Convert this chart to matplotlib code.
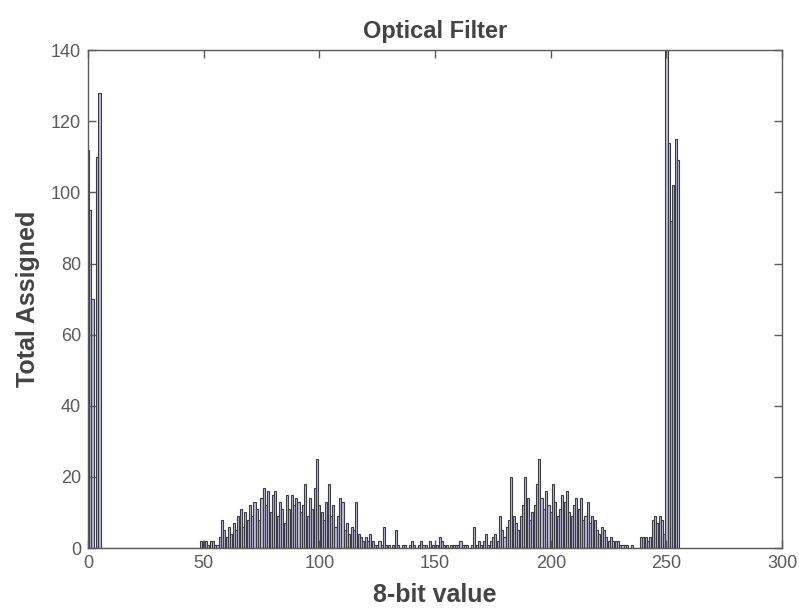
import numpy as np
import matplotlib
matplotlib.use("Agg")
import matplotlib.pyplot as plt

plt.rcParams['font.family'] = ['Liberation Sans', 'DejaVu Sans']

# 8-bit values and counts
values = np.arange(256)
counts = (
    [112, 95, 70, 0, 110, 128, 0, 0, 0, 0] +          # 0-9
    [0] * 39 +                                         # 10-48
    [2] +                                              # 49
    [2, 2, 1, 2, 2, 1, 1, 3, 8, 5] +                   # 50-59
    [3, 6, 4, 7, 5, 9, 11, 6, 10, 8] +                 # 60-69
    [12, 9, 13, 11, 8, 14, 17, 12, 16, 10] +           # 70-79
    [15, 16, 9, 13, 11, 7, 15, 11, 15, 12] +           # 80-89
    [14, 13, 10, 12, 18, 9, 14, 11, 17, 25] +          # 90-99
    [12, 10, 8, 13, 18, 9, 12, 6, 9, 14] +             # 100-109
    [13, 5, 7, 4, 6, 5, 13, 4, 3, 2] +                 # 110-119
    [3, 2, 4, 2, 1, 1, 2, 1, 6, 1] +                   # 120-129
    [1, 0, 1, 5, 1, 0, 1, 1, 0, 1] +                   # 130-139
    [2, 1, 0, 1, 2, 1, 1, 0, 2, 1] +                   # 140-149
    [1, 1, 3, 2, 1, 1, 0, 1, 1, 1] +                   # 150-159
    [1, 2, 1, 1, 1, 0, 1, 6, 1, 2] +                   # 160-169
    [1, 2, 4, 1, 2, 3, 4, 2, 9, 5] +                   # 170-179
    [3, 6, 8, 20, 9, 7, 5, 9, 12, 20] +                # 180-189
    [14, 8, 10, 12, 18, 25, 14, 11, 16, 12] +          # 190-199
    [10, 18, 13, 9, 11, 15, 13, 16, 10, 9] +           # 200-209
    [12, 14, 11, 14, 8, 9, 13, 7, 9, 8] +              # 210-219
    [5, 4, 6, 5, 3, 2, 3, 2, 2, 2] +                   # 220-229
    [1, 1, 1, 1, 0, 1, 0, 0, 0, 3] +                   # 230-239
    [3, 3, 2, 3, 8, 9, 7, 9, 8, 4] +                   # 240-249
    [145, 114, 92, 102, 115, 109]                      # 250-255
)

x_ticks = [0, 50, 100, 150, 200, 250, 300]
y_ticks = [0, 20, 40, 60, 80, 100, 120, 140]

fig = plt.figure(figsize=(7.99, 6.11), dpi=100)
ax = fig.add_axes([0.110, 0.103, 0.869, 0.815])

ax.bar(values, counts, width=0.9, color='#bcbcd4', edgecolor='#3c3c44',
       linewidth=0.8)

ax.set_xlim(0, 300)
ax.set_ylim(0, 140)
ax.set_xticks(x_ticks)
ax.set_yticks(y_ticks)

gray = '#5a5a5a'
for s in ax.spines.values():
    s.set_color(gray)
    s.set_linewidth(1.0)
ax.tick_params(direction='in', length=6, width=1, color=gray,
               top=True, right=True, labelsize=13, labelcolor=gray, pad=5)

ax.set_title('Optical Filter', fontsize=17, fontweight='bold', color='#444444', pad=9)
ax.set_xlabel('8-bit value', fontsize=18, fontweight='bold', color='#444444', labelpad=8)
ax.set_ylabel('Total Assigned', fontsize=18, fontweight='bold', color='#444444', labelpad=8)

fig.savefig('out.png', dpi=100, facecolor='white')
